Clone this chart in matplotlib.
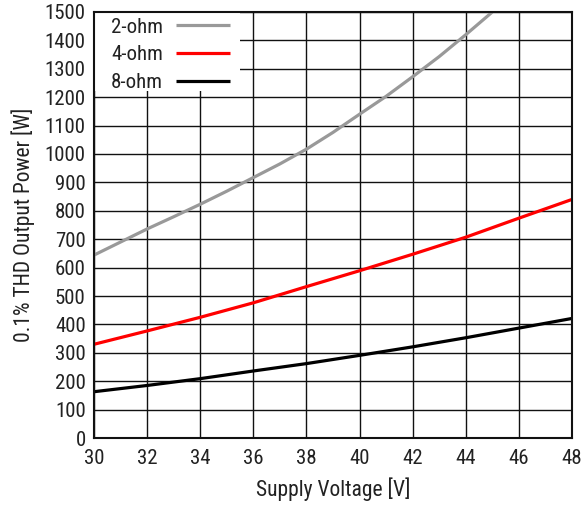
import matplotlib
matplotlib.use("Agg")
import matplotlib.pyplot as plt
from matplotlib import font_manager
from matplotlib.patches import Rectangle

# Supply voltage sweep and 0.1% THD output power per load
voltage_2ohm = [30, 31, 32, 33, 34, 35, 36, 37, 38, 39, 40, 41, 42, 43, 44, 45]
power_2ohm = [644, 690, 736, 779, 823, 869, 917, 965, 1017, 1076, 1140, 1203, 1272, 1343, 1420, 1500]

voltage = [30, 32, 34, 36, 38, 40, 42, 44, 46, 48]
power_4ohm = [330, 377, 425, 476, 533, 589, 647, 707, 774, 840]
power_8ohm = [163, 185, 209, 236, 262, 291, 321, 353, 387, 421]

x_ticks = [30, 32, 34, 36, 38, 40, 42, 44, 46, 48]
y_ticks = list(range(0, 1501, 100))

available = {f.name for f in font_manager.fontManager.ttflist}
family = [f for f in ["Liberation Sans Narrow", "Roboto Condensed", "Liberation Sans"] if f in available]
plt.rcParams["font.family"] = family + ["DejaVu Sans"]

fig = plt.figure(figsize=(5.83, 5.12), dpi=100)
ax = fig.add_axes([0.1612, 0.1445, 0.8199, 0.8321])

ax.plot(voltage_2ohm, power_2ohm, color="#999999", lw=2.3, label="2-ohm", solid_capstyle="butt")
ax.plot(voltage, power_4ohm, color="#ff0000", lw=2.3, label="4-ohm", solid_capstyle="butt")
ax.plot(voltage, power_8ohm, color="#000000", lw=2.3, label="8-ohm", solid_capstyle="butt")

ax.set_xlim(30, 48)
ax.set_ylim(0, 1500)
ax.set_xticks(x_ticks)
ax.set_yticks(y_ticks)
ax.grid(True, color="#111111", lw=1.0)
ax.set_axisbelow(True)
ax.tick_params(length=0, labelsize=15, colors="#222222")
ax.tick_params(axis="x", pad=8)
ax.tick_params(axis="y", pad=6)
for s in ax.spines.values():
    s.set_linewidth(1.5)
    s.set_color("#111111")

ax.set_xlabel("Supply Voltage [V]", fontsize=15.5, color="#222222", labelpad=7)
ax.set_ylabel("0.1% THD Output Power [W]", fontsize=15.5, color="#222222", labelpad=7)

# white panel behind the key, hiding the grid in the top-left corner
ax.add_patch(Rectangle((0, 0.815), 0.305, 0.185, transform=ax.transAxes,
                       facecolor="white", edgecolor="none", zorder=1))

leg = ax.legend(loc="upper left", bbox_to_anchor=(0.036, 0.987), markerfirst=False,
                fontsize=15, frameon=False, handlelength=2.6, labelspacing=0.43,
                borderaxespad=0, borderpad=0, handletextpad=0.6)
for t in leg.get_texts():
    t.set_color("#222222")

fig.savefig("out.png", dpi=100)
